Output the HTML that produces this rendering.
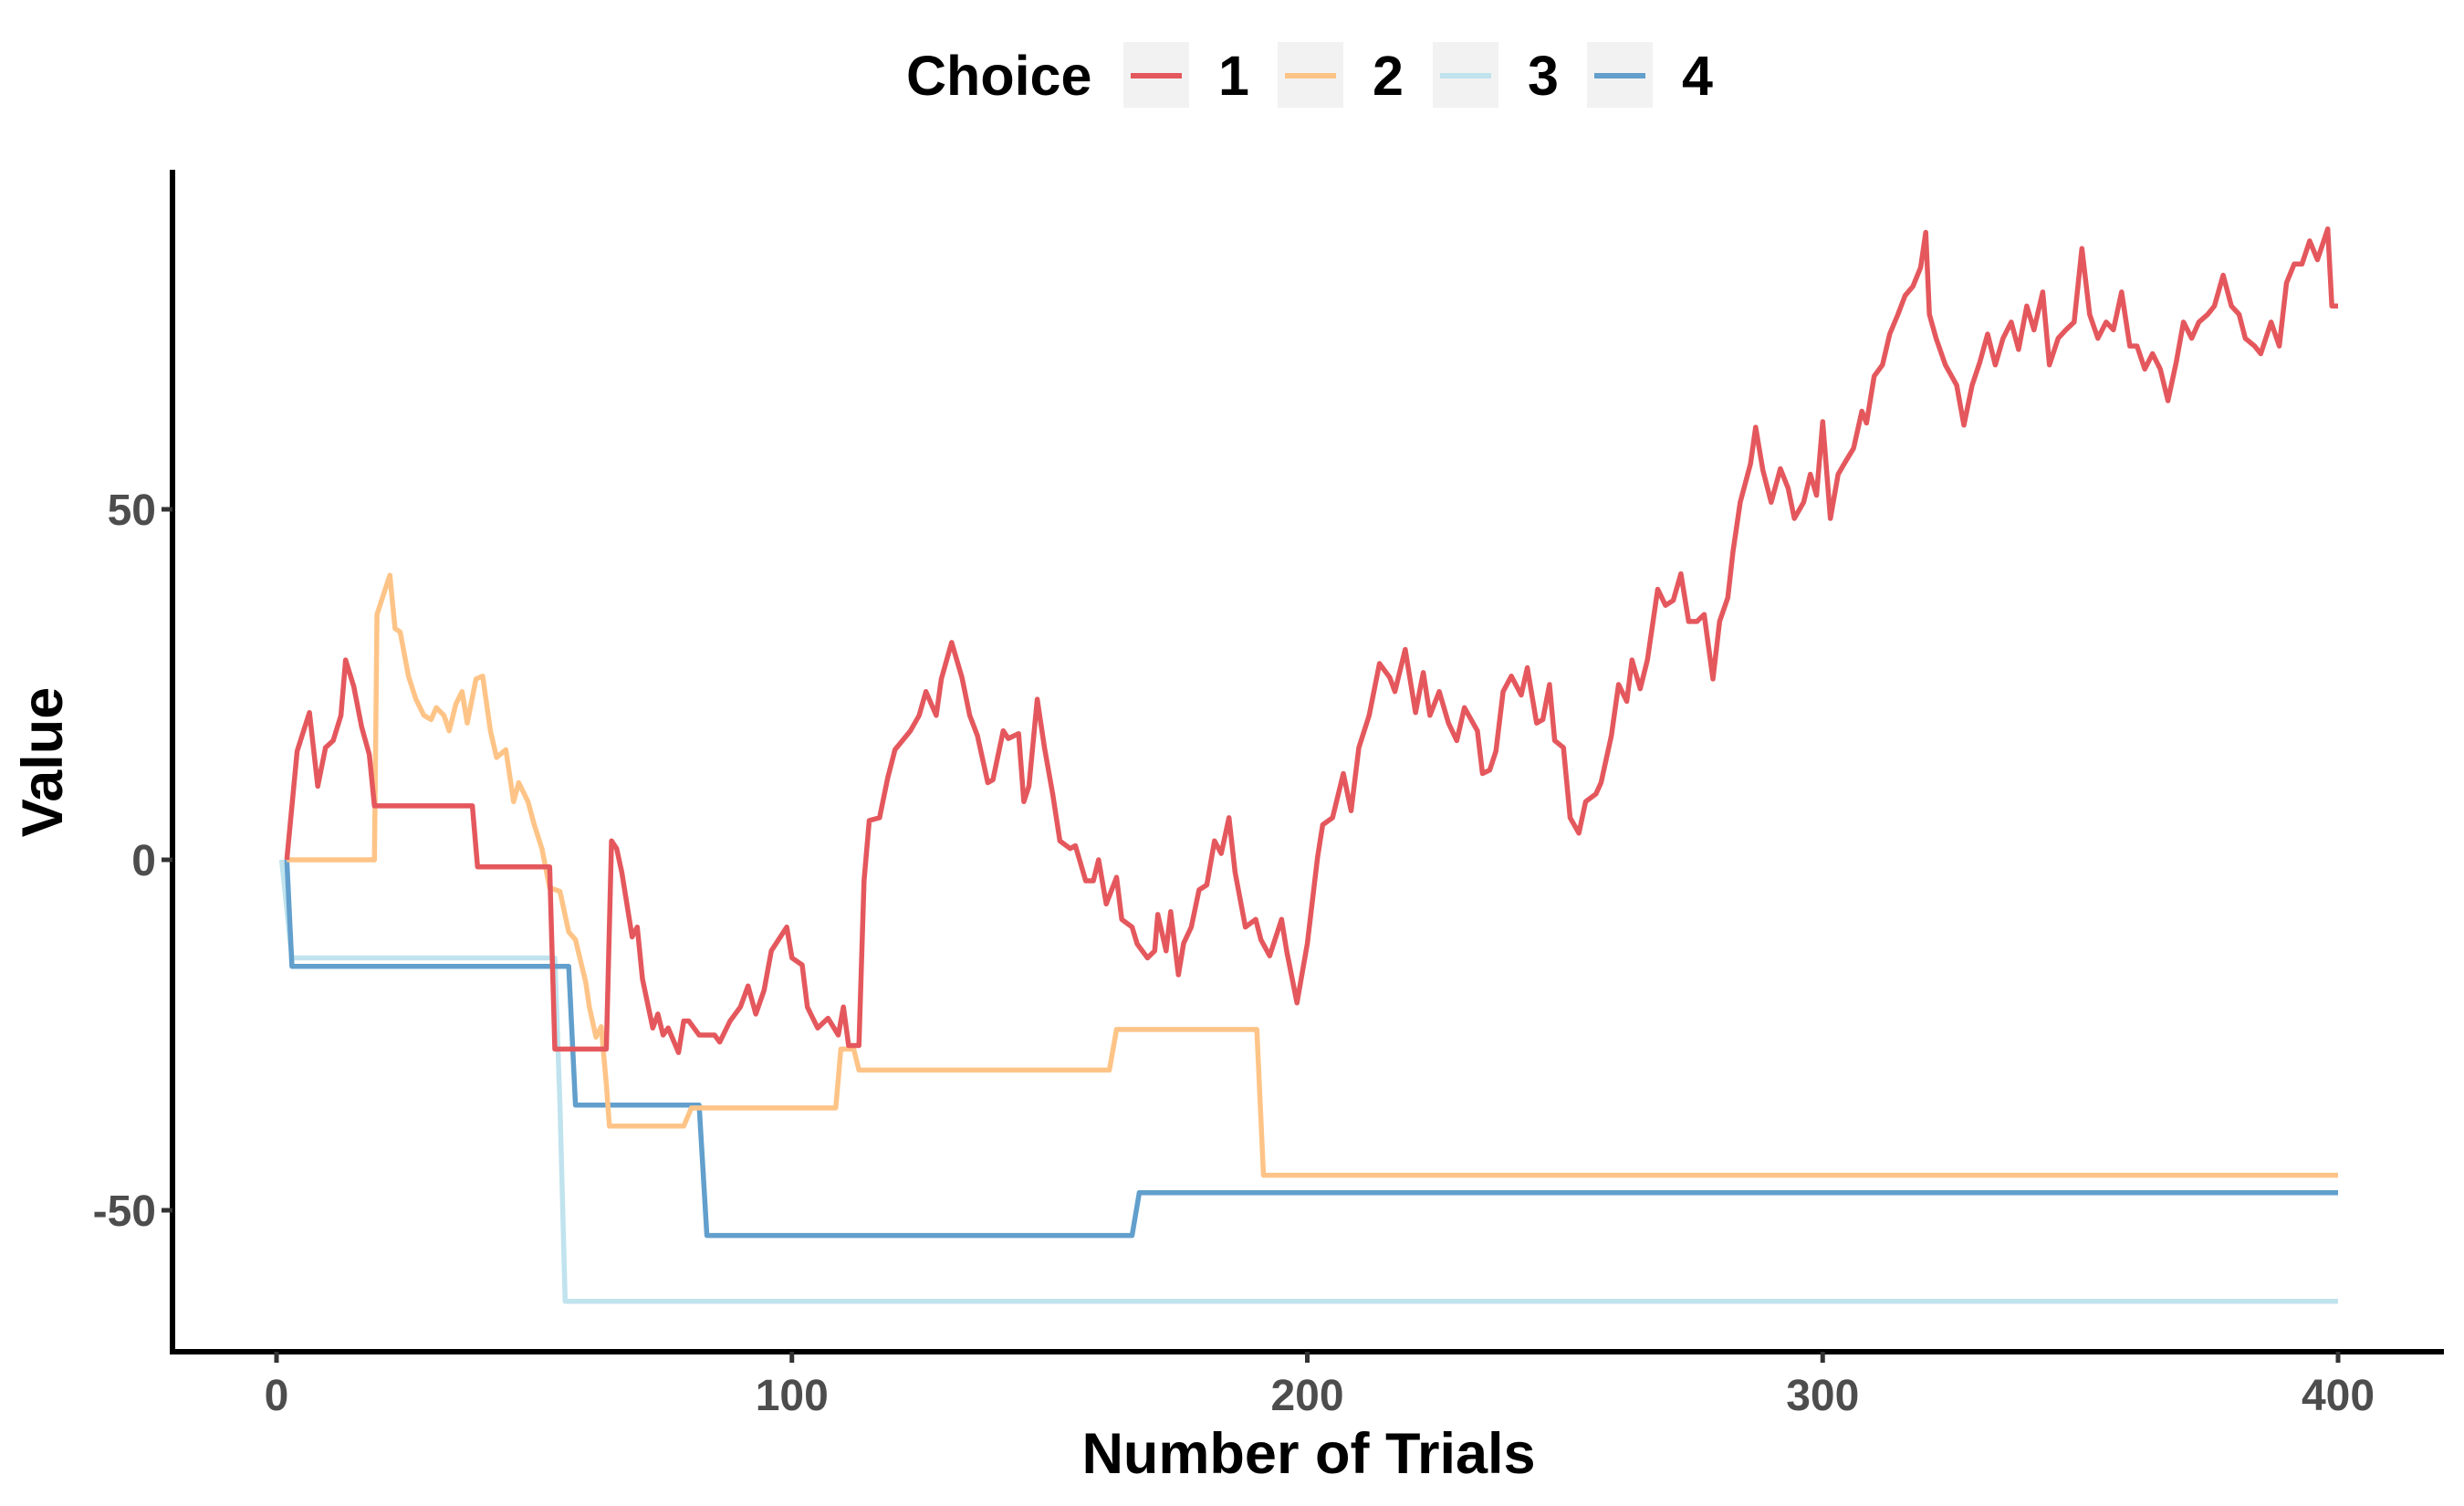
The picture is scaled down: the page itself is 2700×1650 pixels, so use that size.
<!DOCTYPE html>
<html><head><meta charset="utf-8"><style>
html,body{margin:0;padding:0;background:#fff;width:2700px;height:1650px;overflow:hidden}
svg{display:block;font-family:"Liberation Sans",Arial,sans-serif;font-weight:bold}
</style></head><body>
<svg id="chart" width="2700" height="1650" viewBox="0 0 2700 1650" xmlns="http://www.w3.org/2000/svg">
<g id="series"></g>
<line x1="189" y1="186" x2="189" y2="1484" stroke="#000" stroke-width="6"/>
<line x1="186" y1="1481" x2="2678" y2="1481" stroke="#000" stroke-width="6"/>
<g id="xticks"></g>
<g id="yticks"></g>
<text x="1434" y="1614" font-size="63" text-anchor="middle" fill="#000">Number of Trials</text>
<text transform="translate(68,835) rotate(-90)" font-size="63" text-anchor="middle" fill="#000">Value</text>
<g>
<text x="993" y="104" font-size="61" fill="#000">Choice</text>
<g id="legend-keys"></g>
</g>
</svg>
<script>
const xTicks=[0,100,200,300,400];
const yTicks=[-50,0,50];
const choices=["1","2","3","4"];
const colors=["#e4585d","#fec487","#c0e3ee","#629fcc"];
const t1=[2,4,6.4,8,9.5,11,12.5,13.4,15,16.5,18,19,38,39,53,54,64,65,66,67,69,70,71,73,74,75,76,78,79,80,82,85,86,88,90,91.5,93,94.6,96,99,100,102,103,105,107,109,110,111,113,114,115,117,118.6,120,123,124.7,126,128,129,131,133,134.5,136,138,139,141,142,144,145,146,147.6,149,150.6,152,154,155,157,158.5,159.5,161,163,164,166,167,169,170.4,171,172.6,173.5,175,176,177.5,179,180.5,182,183.3,184.8,186,188,190,191,192.7,195,196,198,200,202,203,204.9,207,208.5,210,212,214,216,217,219,221,222.5,223.8,225.6,227.4,229,230.5,233,234,235.4,236.6,238,239.6,241.5,242.7,244.5,245.7,247,248,249.7,251,252.7,254,256,257,259,260.4,262,263,264.6,266,268,269.5,271,272.5,274,275.6,277,278.7,280,281.6,282.6,284,286,287,288.4,290,291.8,293.3,294.5,296.3,297.6,298.8,300,301.5,303,304.6,306,307.6,308.5,310,311.6,313,314.6,316,317.5,319,320,320.7,322,323.8,326,327.4,329,330.5,332,333.5,335,336.6,338,339.6,341,342.7,344,345.7,347.2,348.8,350.3,351.8,353.4,355,356.4,358,359.6,361,362.5,364,365.5,367,368.6,370,371.6,373,374.7,376,377.7,379.3,380.8,382,383.8,385,387,388.6,390,391.5,393,394.5,396,398,398.8,400];
const v1=[0,15.5,21,10.5,16,17,20.6,28.5,24.7,19,15,7.7,7.7,-1,-1,-27,-27,2.7,1.6,-1.8,-11,-9.6,-17,-24,-22,-25,-24,-27.5,-23,-23,-25,-25,-26,-23,-21,-18,-22,-18.6,-13,-9.6,-14,-15,-21,-24,-22.6,-25,-21,-26.5,-26.5,-3,5.6,6,11.7,15.7,18.4,20.6,24,20.6,25.8,31,26,20.6,17.7,11,11.4,18.4,17.3,18,8.3,10.5,22.9,16,9.4,2.7,1.6,2,-3,-3,0,-6.3,-2.5,-8.5,-9.6,-12,-14,-13,-7.8,-13,-7.4,-16.4,-11.9,-9.6,-4.3,-3.6,2.7,0.9,6,-1.8,-9.6,-8.5,-11.4,-13.7,-8.5,-13,-20.4,-12,0.4,5,6,12.3,7,16,20.6,28,26,24,30,21,26.7,20.6,24,19.5,17,21.7,18.4,12.3,12.8,15.5,24,26.2,23.5,27.4,19.5,20,25,17,16,6,3.8,8.3,9.4,11,17.7,25,22.6,28.5,24.4,28.5,38.6,36.3,37,40.8,34,34,35,25.8,34,37.4,44,51,56.5,61.7,55.6,51,55.8,53,48.7,51,55,52,62.5,48.7,55,57,58.7,64,62.3,69,70.6,75,77.8,80.5,81.8,84.5,89.5,77.8,74.4,70.6,67.7,62,67.7,71,75,70.6,74.4,76.7,72.8,79,75.6,81,70.6,74.4,75.6,76.7,87.2,77.8,74.4,76.7,75.6,81,73.3,73.3,70,72.2,70,65.5,71,76.7,74.4,76.7,77.8,79,83.4,79,77.8,74.4,73.3,72.2,76.7,73.3,82.3,85,85,88.3,85.6,90,79,79];
const t2=[2,19,19.5,22,23,24,25.6,27,28.6,30,31,32.5,33.5,34.8,36,37,38.7,40,41.5,42.7,44.5,46,47,48.8,50,51.5,53,55,56.7,58,60,60.7,62,63,64,64.6,79,80.5,108.5,109.5,112,113,161.6,163,190.2,191.5,400];
const v2=[0,0,35,40.6,33,32.5,26.2,23,20.6,20,21.7,20.6,18.4,22.2,24,19.5,25.8,26.2,18.4,14.6,15.7,8.3,11,8.3,5,1.6,-4,-4.5,-10.3,-11.4,-17.5,-21,-25.3,-23.8,-32,-38,-38,-35.4,-35.4,-27,-27,-30,-30,-24.2,-24.2,-45,-45];
const t3=[1,3,54,55,56,400];
const v3=[0,-14,-14,-35,-63,-63];
const t4=[2,3,56.7,58,82,83.5,166,167.4,400];
const v4=[0,-15.2,-15.2,-35,-35,-53.6,-53.6,-47.5,-47.5];
const seriesT=[t1,t2,t3,t4], seriesV=[v1,v2,v3,v4];
const NS="http://www.w3.org/2000/svg";
function xs(t){return 303+t*(2562-303)/400;}
function ys(v){return 942-v*(942-558)/50;}
const sg=document.getElementById('series');
const order=[2,3,1,0];
order.forEach(i=>{
  const p=document.createElementNS(NS,'path');
  
  
  let d='';
  seriesT[i].forEach((t,k)=>{d+=(k?'L':'M')+xs(t).toFixed(1)+','+ys(seriesV[i][k]).toFixed(1);});
  p.setAttribute('d',d);p.setAttribute('fill','none');p.setAttribute('stroke',colors[i]);
  p.setAttribute('stroke-width','5.5');p.setAttribute('stroke-linejoin','round');
  sg.appendChild(p);
});
const xg=document.getElementById('xticks');
xTicks.forEach(t=>{
  const l=document.createElementNS(NS,'line');
  
  
  l.setAttribute('x1',xs(t));l.setAttribute('x2',xs(t));l.setAttribute('y1',1481);l.setAttribute('y2',1493);
  l.setAttribute('stroke','#333');l.setAttribute('stroke-width','5');xg.appendChild(l);
  const tx=document.createElementNS(NS,'text');
  
  
  tx.setAttribute('x',xs(t));tx.setAttribute('y',1545);tx.setAttribute('font-size','48');
  tx.setAttribute('text-anchor','middle');tx.setAttribute('fill','#4d4d4d');tx.textContent=t;xg.appendChild(tx);
});
const yg=document.getElementById('yticks');
yTicks.forEach(v=>{
  const l=document.createElementNS(NS,'line');
  
  
  l.setAttribute('x1',177);l.setAttribute('x2',189);l.setAttribute('y1',ys(v));l.setAttribute('y2',ys(v));
  l.setAttribute('stroke','#333');l.setAttribute('stroke-width','5');yg.appendChild(l);
  const tx=document.createElementNS(NS,'text');
  
  
  tx.setAttribute('x',171);tx.setAttribute('y',ys(v)+17);tx.setAttribute('font-size','48');
  tx.setAttribute('text-anchor','end');tx.setAttribute('fill','#4d4d4d');tx.textContent=v;yg.appendChild(tx);
});
const lg=document.getElementById('legend-keys');
const boxX=[1231,1400,1570,1739];
choices.forEach((c,i)=>{
  const r=document.createElementNS(NS,'rect');
  
  
  r.setAttribute('x',boxX[i]);r.setAttribute('y',46);r.setAttribute('width',72);r.setAttribute('height',72);
  r.setAttribute('fill','#f2f2f2');lg.appendChild(r);
  const l=document.createElementNS(NS,'line');
  
  
  l.setAttribute('x1',boxX[i]+8);l.setAttribute('x2',boxX[i]+64);l.setAttribute('y1',83);l.setAttribute('y2',83);
  l.setAttribute('stroke',colors[i]);l.setAttribute('stroke-width','6');lg.appendChild(l);
  const tx=document.createElementNS(NS,'text');
  
  
  tx.setAttribute('x',boxX[i]+121);tx.setAttribute('y',104);tx.setAttribute('font-size','61');
  tx.setAttribute('text-anchor','middle');tx.setAttribute('fill','#000');tx.textContent=c;lg.appendChild(tx);
});
</script>
</body></html>
